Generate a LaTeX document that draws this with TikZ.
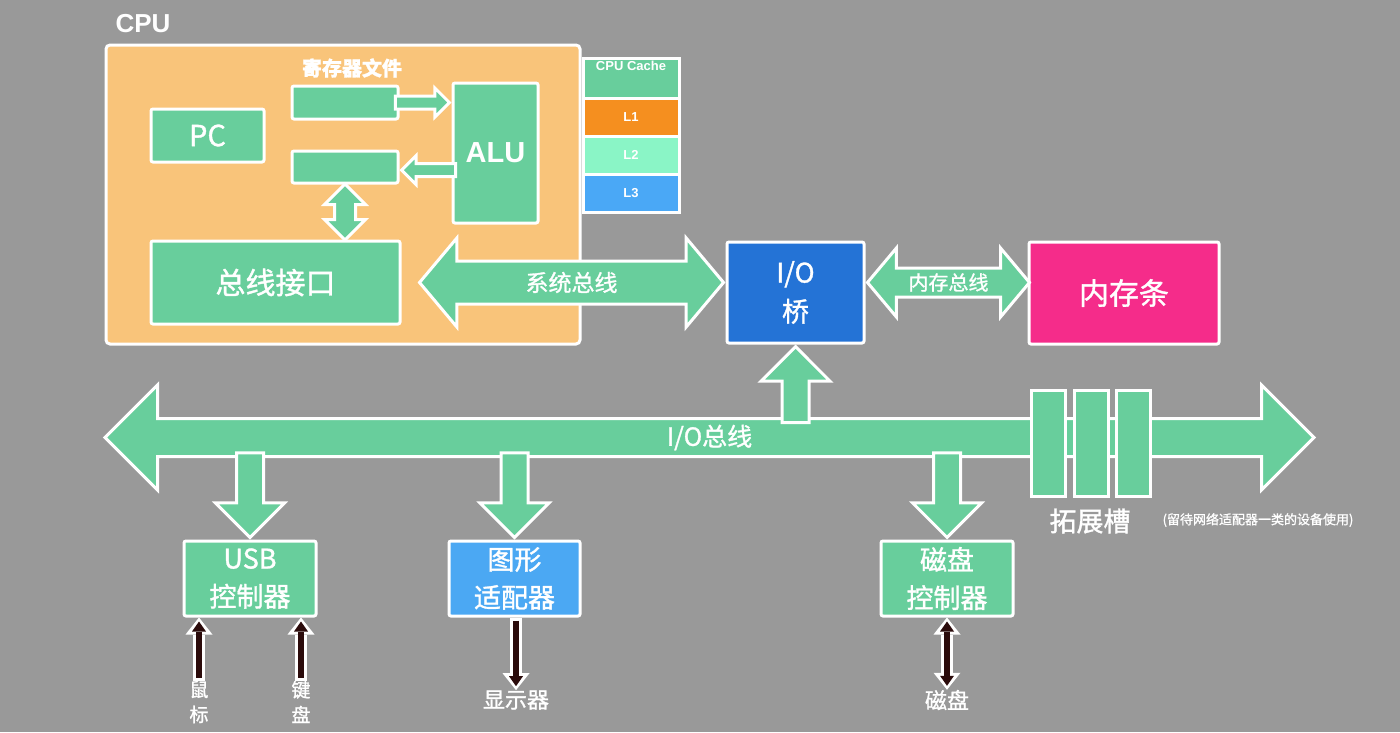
\documentclass[tikz,border=0pt]{standalone}
\usepackage{fontspec}
\setmainfont{Noto Sans CJK SC}[FakeBold=1.2]
\newfontfamily\lib{Liberation Sans}
\usetikzlibrary{arrows.meta,positioning,calc,shapes.arrows}
\definecolor{bggray}{HTML}{999999}
\definecolor{busgreen}{HTML}{68CE9C}
\definecolor{cpuorange}{HTML}{F9C47A}
\definecolor{lone}{HTML}{F58F1F}
\definecolor{ltwo}{HTML}{8AF5C6}
\definecolor{lthree}{HTML}{4AA8F6}
\definecolor{iobblue}{HTML}{2473D6}
\definecolor{gpublue}{HTML}{4BA8F3}
\definecolor{mempink}{HTML}{F52C8A}
\definecolor{plugdark}{HTML}{2B0B0B}
\newcommand\fsz[1]{\fontsize{#1}{#1}\selectfont}

\begin{document}
\begin{tikzpicture}[x=1pt,y=-1pt,every node/.style={text=white,inner sep=0pt}]
\tikzstyle{box}=[draw=white,line width=3pt,fill=busgreen,rounded corners=2pt,align=center]
\tikzstyle{blk}=[draw=white,line width=3pt,fill=busgreen,inner xsep=0pt]
\tikzstyle{sarrow}=[blk,single arrow,single arrow tip angle=90]
\tikzstyle{darrow}=[blk,double arrow,double arrow tip angle=90]
\tikzstyle{plug}=[draw=plugdark,line width=6pt,shorten >=4pt,shorten <=3pt,-{Triangle[width=14pt,length=10pt,line width=0pt]},
  preaction={draw=white,line width=12pt,shorten >=0pt,shorten <=0pt,-{Triangle[width=27pt,length=17pt,line width=0pt]}}]
\tikzstyle{plugs}=[draw=plugdark,line width=6pt,shorten >=4pt,shorten <=4pt,{Triangle[width=14pt,length=10pt,line width=0pt]}-{Triangle[width=14pt,length=10pt,line width=0pt]},
  preaction={draw=white,line width=12pt,shorten >=0pt,shorten <=0pt,{Triangle[width=27pt,length=17pt,line width=0pt]}-{Triangle[width=27pt,length=17pt,line width=0pt]}}]
\fill[bggray] (0,0) rectangle (1400,732);
\useasboundingbox (0,0) rectangle (1400,732);

% CPU
\node[box,fill=cpuorange,rounded corners=4pt,minimum width=474pt,minimum height=299pt] (cpu) at (343,194.5) {};
\node[font=\lib\bfseries\fsz{26}] (cpulbl) at (143,24) {CPU};
\node[box,minimum width=113pt,minimum height=53pt,font=\fsz{29}] (pc) at (207.5,135.5) {PC};
\node[box,minimum width=106pt,minimum height=33pt] (reg1) at (345,102.5) {};
\node[box,minimum width=106pt,minimum height=32pt] (reg2) at (345,167) {};
\node[font=\bfseries\fsz{20}] (regfile) at (352,68) {寄存器文件};
\node[box,minimum width=85pt,minimum height=140pt,font=\lib\bfseries\fsz{29}] (alu) at (495.5,153) {ALU};
\node[box,minimum width=249pt,minimum height=83pt,font=\fsz{30}] (busif) at (275.5,282.5) {总线接口};
\node[sarrow,minimum height=54pt,inner ysep=5pt,single arrow head extend=8pt,anchor=tip] (toalu) at (alu.west |- reg1) {};
\node[sarrow,rotate=180,minimum height=54pt,inner ysep=5pt,single arrow head extend=8pt,anchor=tip] (fromalu) at ([yshift=-3pt]reg2.east) {};
\node[darrow,rotate=90,minimum height=56pt,inner ysep=9pt,double arrow head extend=10pt] (regbus) at ($(reg2.south)!0.5!(reg2.south |- busif.north)$) {};

% cache
\node[box,rounded corners=0pt,outer sep=0pt,minimum width=96pt,minimum height=40pt,anchor=north] (cachehd) at (631,58) {};
\node[below=3pt of cachehd.north,font=\lib\bfseries\fsz{13}] (cachelbl) {CPU Cache};
\node[box,rounded corners=0pt,outer sep=0pt,fill=lone,minimum width=96pt,minimum height=38pt,below=0pt of cachehd,font=\lib\bfseries\fsz{13}] (l1) {L1};
\node[box,rounded corners=0pt,outer sep=0pt,fill=ltwo,minimum width=96pt,minimum height=38pt,below=0pt of l1,font=\lib\bfseries\fsz{13}] (l2) {L2};
\node[box,rounded corners=0pt,outer sep=0pt,fill=lthree,minimum width=96pt,minimum height=38pt,below=0pt of l2,font=\lib\bfseries\fsz{13}] (l3) {L3};

% bridge and memory
\node[box,fill=iobblue,minimum width=137pt,minimum height=101pt,font=\fontsize{27}{39}\selectfont] (iob) at (795.5,292.5) {I/O\\桥};
\node[box,fill=mempink,minimum width=190pt,minimum height=102pt,font=\fsz{30}] (mem) at (1124,293) {内存条};
\node[darrow,double arrow tip angle=100,minimum height=304pt,inner ysep=20pt,double arrow head extend=23pt,anchor=east,
  label={[font=\fsz{23}]center:系统总线}] (sysbus) at (iob.west |- busif) {};
\node[darrow,double arrow tip angle=100,minimum height=162pt,inner ysep=13pt,double arrow head extend=20pt,anchor=west,
  label={[font=\fsz{20}]center:内存总线}] (membus) at (iob.east |- busif) {};

% I/O bus
\node[darrow,minimum height=1209pt,inner ysep=17.5pt,double arrow head extend=33.5pt,
  label={[font=\fsz{25}]center:I/O总线}] (iobus) at (709.5,437.5) {};
\node[sarrow,rotate=90,minimum height=76pt,inner ysep=12pt,single arrow head extend=21pt,anchor=tip] (upiob) at (iob.south) {};
\foreach \x/\n in {1048.5/1,1091.5/2,1133.5/3}
  \node[box,rounded corners=0pt,minimum width=34pt,minimum height=106pt] (slot\n) at (\x,443) {};
\node[font=\fsz{27}] (slotlbl) at (1090,521) {拓展槽};
\node[font=\fsz{13}] (slotnote) at (1258,520) {(留待网络适配器一类的设备使用)};

% devices
\node[box,minimum width=132pt,minimum height=75pt,font=\fontsize{27}{38}\selectfont] (usb) at (250,578.5) {USB\\控制器};
\node[box,fill=gpublue,minimum width=131pt,minimum height=75pt,font=\fontsize{27}{38}\selectfont] (gpu) at (514.5,578.5) {图形\\适配器};
\node[box,minimum width=132pt,minimum height=75pt,font=\fontsize{27}{38}\selectfont] (diskc) at (947,578.5) {磁盘\\控制器};
\foreach \n in {usb,gpu,diskc}
  \node[sarrow,rotate=-90,minimum height=84.5pt,inner ysep=12pt,single arrow head extend=21pt,anchor=tip] (to\n) at (\n.north) {};
\node[font=\fontsize{19}{25}\selectfont,align=center] (mouse) at (199,702) {鼠\\标};
\node[font=\fontsize{19}{25}\selectfont,align=center] (kbd) at (301,702) {键\\盘};
\node[font=\fsz{22}] (disp) at (516,700) {显示器};
\node[font=\fsz{22}] (disk) at (947,700) {磁盘};
\draw[plug] (mouse.north) -- (mouse.north |- usb.south);
\draw[plug] (kbd.north) -- (kbd.north |- usb.south);
\draw[plug] (disp.north |- gpu.south) -- (disp.north);
\draw[plugs] (disk.north |- diskc.south) -- (disk.north);
\end{tikzpicture}
\end{document}
